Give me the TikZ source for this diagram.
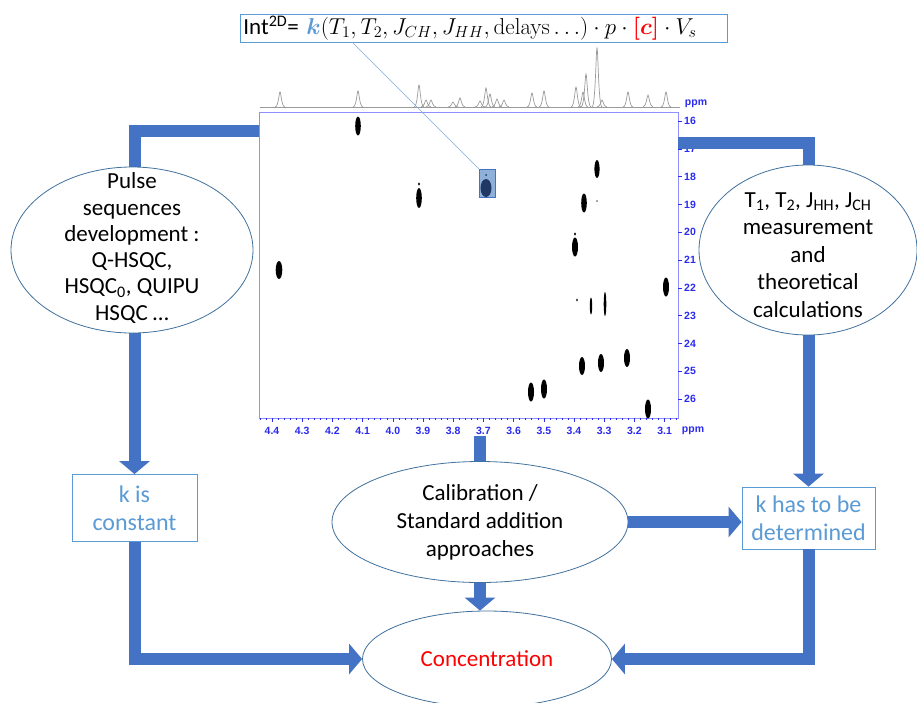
\RequirePackage{fix-cm}
\documentclass[tikz,border=0pt]{standalone}
\usepackage{amsmath,amssymb}
\usepackage{bm}
\usepackage[no-math]{fontspec}
\setmainfont{Carlito}
\newfontfamily\axisfont{Liberation Sans}
\usetikzlibrary{arrows.meta,shapes.geometric}

\definecolor{flowblue}{HTML}{4472C4}
\definecolor{ovalline}{HTML}{41719C}
\definecolor{klight}{HTML}{5B9BD5}
\definecolor{axisblue}{HTML}{2A2AF0}
\definecolor{framelav}{HTML}{8F8FFF}
\definecolor{spotfill}{HTML}{8FB1D9}
\definecolor{spotdark}{HTML}{1F3864}
\definecolor{specgray}{HTML}{9A9A9A}

\begin{document}
\begin{tikzpicture}[x=1pt,y=-1pt,
    bluearrow/.style={draw=flowblue, line width=12pt, -{Triangle[width=30pt,length=13pt]}},
    bluebar/.style={draw=flowblue, line width=12pt},
    oval/.style={ellipse, draw=ovalline, fill=white, line width=0.8pt, inner sep=0pt, align=center, font=\fontsize{23}{28}\selectfont},
    kbox/.style={draw=klight, fill=white, line width=0.8pt, align=center, text=klight, font=\fontsize{24}{28}\selectfont},
    ppmlab/.style={text=axisblue, font=\axisfont\bfseries\fontsize{10.5}{12}\selectfont, inner sep=0pt}]
    \useasboundingbox (0,0) rectangle (917,702);

    % 1D projection on top
    \draw[specgray, line width=0.7pt] (260,107) -- (680,107);
    \foreach \px/\py in {280/92, 358/91, 419/85, 426/100, 431/100, 453/102, 460/98, 480/101, 486/88, 490/94, 497/99, 504/100, 532/93, 544/91, 576/87, 583/92, 586/74, 597/48, 602/100, 628/92, 648/95, 666/92}
      \draw[specgray, line width=0.7pt] (\px-5,107) .. controls (\px-1.5,107) and (\px-1,\py) .. (\px,\py) .. controls (\px+1,\py) and (\px+1.5,107) .. (\px+5,107);
    \node[ppmlab] (ppmtop) at (696,104) {ppm};

    % 2D map frame, ticks and labels
    \draw[framelav, line width=0.8pt] (259,112) rectangle (678,418);
    \foreach \i in {-2,...,67}
      \draw[axisblue, line width=0.5pt] (272+\i*6.04,418) -- ++(0,2);
    \foreach \lab [count=\n from 0] in {4.4,4.3,4.2,4.1,4.0,3.9,3.8,3.7,3.6,3.5,3.4,3.3,3.2,3.1} {
      \draw[axisblue, line width=0.5pt] (272+\n*30.2,418) -- ++(0,4);
      \node[ppmlab] (xl\n) at (272+\n*30.2,431) {\lab};
    }
    \node[ppmlab] (ppmbot) at (693,431) {ppm};
    \foreach \c [count=\n from 0] in {16,...,26} {
      \draw[axisblue, line width=0.5pt] (678,121+\n*27.8) -- ++(4,0);
      \node[ppmlab, anchor=west] (yl\c) at (684,121+\n*27.8) {\c};
    }

    % cross peaks
    \foreach \px/\py/\rx/\ry in {358/126/2.8/9.5, 419/198/2.8/10, 597/169/2.6/9, 584/203/2.8/9.5, 575/247/3/9.5, 279/270/3.3/9, 666/287/3/9.5, 582/366/3/9, 601/363/3/9, 627/358/3/9, 531/392/3/9.5, 544/389/3/9.5, 648/409/3/9.5, 591/306/1.2/8.5, 605/304/1.3/12, 577/300/0.8/1.5, 419/184/1/1.6, 597/201/0.7/0.8, 575/234/1/1.6}
      \fill (\px,\py) ellipse [x radius=\rx*1pt, y radius=\ry*1pt];

    % highlighted peak and equation
    \node (hl) [draw=flowblue, fill=spotfill, line width=0.6pt, minimum width=16pt, minimum height=28pt, inner sep=0pt] at (487,183) {};
    \fill[spotdark] (486,188) ellipse [x radius=5.5pt, y radius=9pt];
    \fill[spotdark] (486,175) circle (1pt);

    \node (formula) [draw=klight, fill=white, line width=0.8pt, anchor=west, minimum height=28pt, text width=481pt, inner xsep=3pt, inner ysep=0pt, align=left, font=\fontsize{23}{26}\selectfont] at (240,28)
      {Int\textsuperscript{2D}= $\textcolor{klight}{\bm{k}}(T_1,T_2,J_{CH},J_{HH},\mathrm{delays}\ldots)\cdot p\cdot\textcolor{red}{\bm{[c]}}\cdot V_s$};
    \coordinate (kfoot) at (352,42);
    \draw[klight!80, line width=0.6pt] (kfoot) -- (hl.north west);

    % boxes and ovals at the ends of the arrows
    \node (kconst) [kbox, minimum width=125pt, minimum height=67pt] at (134.5,508) {k is\\constant};
    \node (kdet) [kbox, minimum width=133pt, minimum height=62pt] at (808.5,518) {k has to be\\determined};
    \node (calib) [oval, minimum width=296pt, minimum height=121pt] at (480,522) {Calibration /\\Standard addition\\approaches};
    \node (conc) [oval, minimum width=249pt, minimum height=96pt, text=red] at (487,659) {Concentration};

    % blue arrows
    \coordinate (specL) at (259,131);
    \coordinate (specR) at (678,143);
    \coordinate (specB) at (480,436);
    \draw[bluearrow] (specL) -| (kconst.north);
    \draw[bluearrow] (specR) -| (kdet.north);
    \draw[bluebar] (specB) -- (calib.north);
    \draw[bluearrow] (calib.south) -- (calib.south |- conc.north);
    \draw[bluearrow] (calib.east) -- (calib.east -| kdet.west);
    \draw[bluearrow] (kconst.south) |- (conc.west);
    \draw[bluearrow] (kdet.south) |- (conc.east);

    % ovals lying over the arrows
    \filldraw[draw=ovalline, fill=white, line width=0.8pt] (132,250) ellipse [x radius=121pt, y radius=83pt];
    \node (pulse) [align=center, font=\fontsize{23}{26.3}\selectfont] at (132,248)
      {Pulse\\sequences\\development :\\Q-HSQC,\\HSQC\textsubscript{0}, QUIPU\\HSQC …};
    \filldraw[draw=ovalline, fill=white, line width=0.8pt] (808,250) ellipse [x radius=109pt, y radius=85pt];
    \node (meas) [align=center, font=\fontsize{23}{27.5}\selectfont] at (808,255)
      {T\textsubscript{1}, T\textsubscript{2}, J\textsubscript{HH}, J\textsubscript{CH}\\measurement\\and\\theoretical\\calculations};
\end{tikzpicture}
\end{document}
